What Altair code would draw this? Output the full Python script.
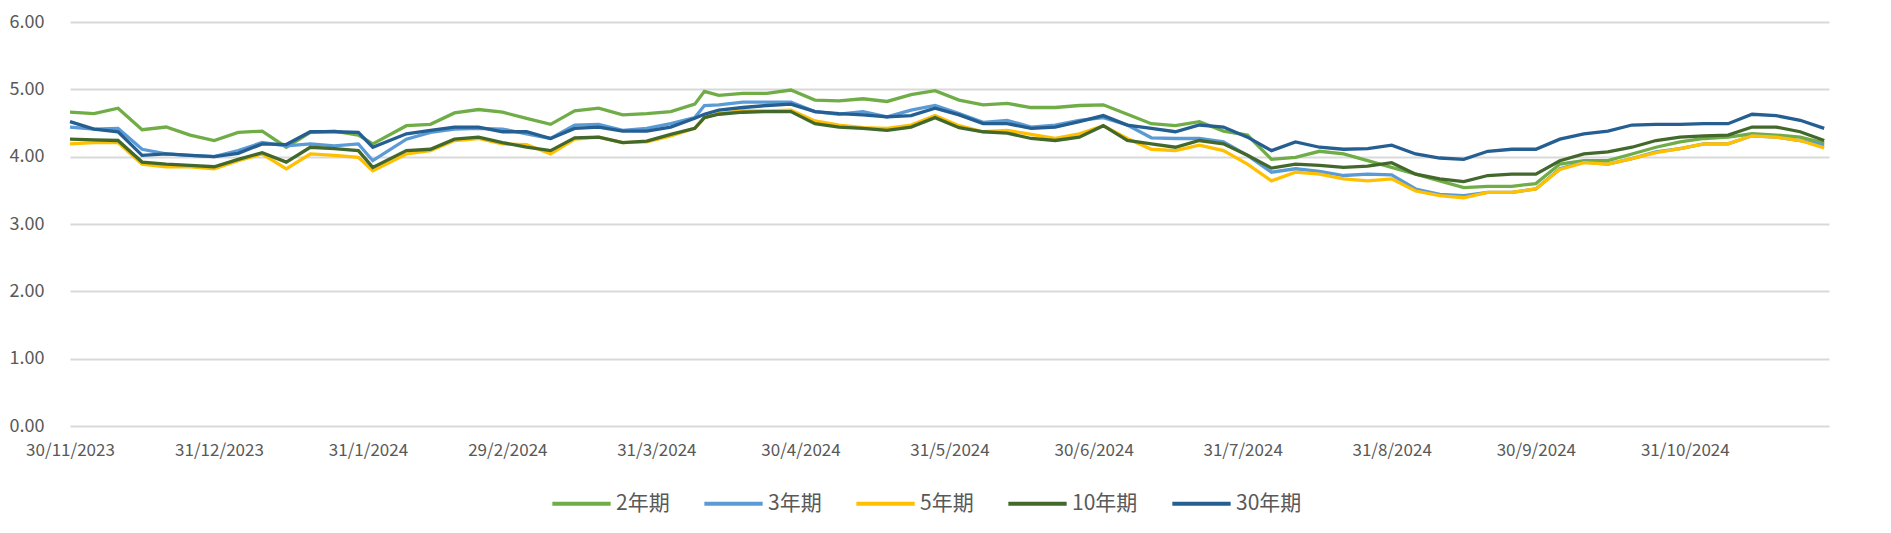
import altair as alt
import pandas as pd

# days since 30/11/2023
day_offsets = [0, 5, 10, 15, 20, 25, 30, 35, 40, 45, 50, 55, 60, 63, 70, 75, 80, 85, 90,
               95, 100, 105, 110, 115, 120, 125, 130, 132, 135, 140, 145, 150, 155, 160, 165, 170, 175, 180, 185,
               190, 195, 200, 205, 210, 215, 220, 225, 230, 235, 240, 245, 250, 255, 260, 265, 270, 275,
               280, 285, 290, 295, 300, 305, 310, 315, 320, 325, 330, 335, 340, 345, 350, 355, 360, 365]

y_2 = [4.66, 4.64, 4.72, 4.40, 4.44, 4.32, 4.24, 4.36, 4.38, 4.14, 4.36, 4.38, 4.32, 4.19, 4.46, 4.48, 4.65, 4.70, 4.66,
       4.57, 4.48, 4.68, 4.72, 4.62, 4.64, 4.67, 4.78, 4.97, 4.91, 4.94, 4.94, 4.99, 4.84, 4.83, 4.86, 4.82, 4.92, 4.98, 4.84,
       4.77, 4.79, 4.73, 4.73, 4.76, 4.77, 4.63, 4.49, 4.46, 4.52, 4.38, 4.32, 3.96, 3.99, 4.08, 4.04, 3.94, 3.84,
       3.74, 3.64, 3.54, 3.56, 3.56, 3.60, 3.89, 3.94, 3.94, 4.04, 4.14, 4.22, 4.27, 4.29, 4.34, 4.32, 4.29, 4.20]

y_3 = [4.44, 4.41, 4.42, 4.11, 4.04, 4.02, 4.00, 4.09, 4.21, 4.16, 4.19, 4.16, 4.19, 3.94, 4.26, 4.36, 4.41, 4.42, 4.41,
       4.34, 4.27, 4.47, 4.48, 4.39, 4.42, 4.49, 4.58, 4.76, 4.77, 4.81, 4.81, 4.81, 4.67, 4.63, 4.67, 4.59, 4.69, 4.76, 4.64,
       4.51, 4.54, 4.44, 4.47, 4.54, 4.58, 4.47, 4.28, 4.27, 4.27, 4.22, 4.02, 3.77, 3.82, 3.78, 3.72, 3.74, 3.73,
       3.52, 3.44, 3.42, 3.47, 3.47, 3.52, 3.82, 3.92, 3.89, 3.97, 4.07, 4.12, 4.19, 4.19, 4.31, 4.29, 4.24, 4.17]

y_5 = [4.19, 4.21, 4.21, 3.89, 3.85, 3.85, 3.82, 3.94, 4.04, 3.82, 4.04, 4.02, 3.99, 3.79, 4.04, 4.09, 4.24, 4.27, 4.19,
       4.18, 4.04, 4.26, 4.29, 4.21, 4.22, 4.31, 4.42, 4.58, 4.64, 4.68, 4.68, 4.69, 4.53, 4.47, 4.43, 4.42, 4.47, 4.61, 4.46,
       4.37, 4.39, 4.33, 4.27, 4.34, 4.46, 4.27, 4.11, 4.09, 4.17, 4.09, 3.89, 3.64, 3.77, 3.74, 3.67, 3.64, 3.67,
       3.49, 3.42, 3.39, 3.47, 3.47, 3.52, 3.81, 3.91, 3.89, 3.97, 4.06, 4.12, 4.19, 4.19, 4.31, 4.29, 4.24, 4.13]

y_10 = [4.26, 4.25, 4.24, 3.92, 3.89, 3.87, 3.85, 3.96, 4.06, 3.92, 4.14, 4.12, 4.09, 3.84, 4.09, 4.11, 4.26, 4.29, 4.21,
        4.14, 4.09, 4.28, 4.29, 4.21, 4.23, 4.33, 4.42, 4.58, 4.63, 4.66, 4.67, 4.67, 4.49, 4.44, 4.42, 4.39, 4.44, 4.58, 4.43,
        4.37, 4.35, 4.27, 4.24, 4.29, 4.46, 4.24, 4.19, 4.14, 4.24, 4.19, 4.02, 3.83, 3.89, 3.87, 3.84, 3.86, 3.91,
        3.74, 3.67, 3.63, 3.72, 3.74, 3.74, 3.94, 4.04, 4.07, 4.14, 4.24, 4.29, 4.31, 4.32, 4.44, 4.44, 4.37, 4.24]

y_30 = [4.52, 4.41, 4.37, 4.02, 4.04, 4.02, 4.00, 4.05, 4.19, 4.18, 4.37, 4.37, 4.36, 4.14, 4.34, 4.39, 4.44, 4.44, 4.37,
        4.37, 4.27, 4.42, 4.44, 4.38, 4.38, 4.44, 4.57, 4.63, 4.69, 4.73, 4.76, 4.78, 4.67, 4.64, 4.62, 4.59, 4.61, 4.72, 4.62,
        4.49, 4.49, 4.42, 4.44, 4.52, 4.61, 4.47, 4.42, 4.37, 4.47, 4.44, 4.29, 4.09, 4.22, 4.14, 4.11, 4.12, 4.17,
        4.04, 3.98, 3.96, 4.08, 4.11, 4.11, 4.26, 4.34, 4.38, 4.47, 4.48, 4.48, 4.49, 4.49, 4.63, 4.61, 4.54, 4.42]

series_names = ["2年期", "3年期", "5年期", "10年期", "30年期"]
series_colors = ["#70AD47", "#5B9BD5", "#FFC000", "#43682B", "#255E91"]

tick_dates = [(2023, 11, 30), (2023, 12, 31), (2024, 1, 31), (2024, 2, 29), (2024, 3, 31),
              (2024, 4, 30), (2024, 5, 31), (2024, 6, 30), (2024, 7, 31), (2024, 8, 31),
              (2024, 9, 30), (2024, 10, 31)]
y_ticks = [0, 1, 2, 3, 4, 5, 6]

dates = (pd.Timestamp("2023-11-30") + pd.to_timedelta(day_offsets, unit="D")).strftime("%Y-%m-%d")
rows = []
for name, vals in zip(series_names, [y_2, y_3, y_5, y_10, y_30]):
    for dt, v in zip(dates, vals):
        rows.append({"date": dt, "series": name, "value": v})
df = pd.DataFrame(rows)

FONT = "Noto Sans CJK SC"
GREY = "#595959"

x_axis = alt.Axis(
    values=[alt.DateTime(year=y, month=m, date=d, utc=True) for (y, m, d) in tick_dates],
    format="%-d/%-m/%Y", title=None, grid=False, domain=False, ticks=False, tickSize=0,
    labelFont=FONT, labelFontSize=17, labelColor=GREY, labelPadding=16, labelOverlap=False,
    labelFlush=False,
)
y_axis = alt.Axis(
    values=y_ticks, format=".2f", title=None, domain=False, ticks=False, tickSize=0,
    gridColor="#D9D9D9", gridWidth=2, labelFont=FONT, labelFontSize=18, labelColor=GREY,
    labelPadding=26,
)

chart = alt.Chart(df).mark_line(strokeWidth=3.3).encode(
    x=alt.X("date:T", axis=x_axis,
            scale=alt.Scale(type="utc", domain=[alt.DateTime(year=2023, month=11, date=30, utc=True),
                                                alt.DateTime(year=2024, month=11, date=30, utc=True)])),
    y=alt.Y("value:Q", axis=y_axis, scale=alt.Scale(domain=[0, 6], nice=False, zero=True)),
    color=alt.Color("series:N", sort=series_names,
                    scale=alt.Scale(domain=series_names, range=series_colors),
                    legend=alt.Legend(title=None, orient="none", direction="horizontal",
                                      legendX=480, legendY=450, symbolType="stroke",
                                      symbolSize=3400, symbolStrokeWidth=4,
                                      labelFont=FONT, labelFontSize=21, labelColor=GREY,
                                      labelOffset=3, columnPadding=26, labelLimit=300)),
).properties(
    width=1759, height=404,
    autosize=alt.AutoSizeParams(type="none"),
    padding={"left": 62, "top": 14, "right": 54, "bottom": 99},
).configure_view(stroke=None)

chart.save("out.html", embed_options={"renderer": "svg", "actions": False})
